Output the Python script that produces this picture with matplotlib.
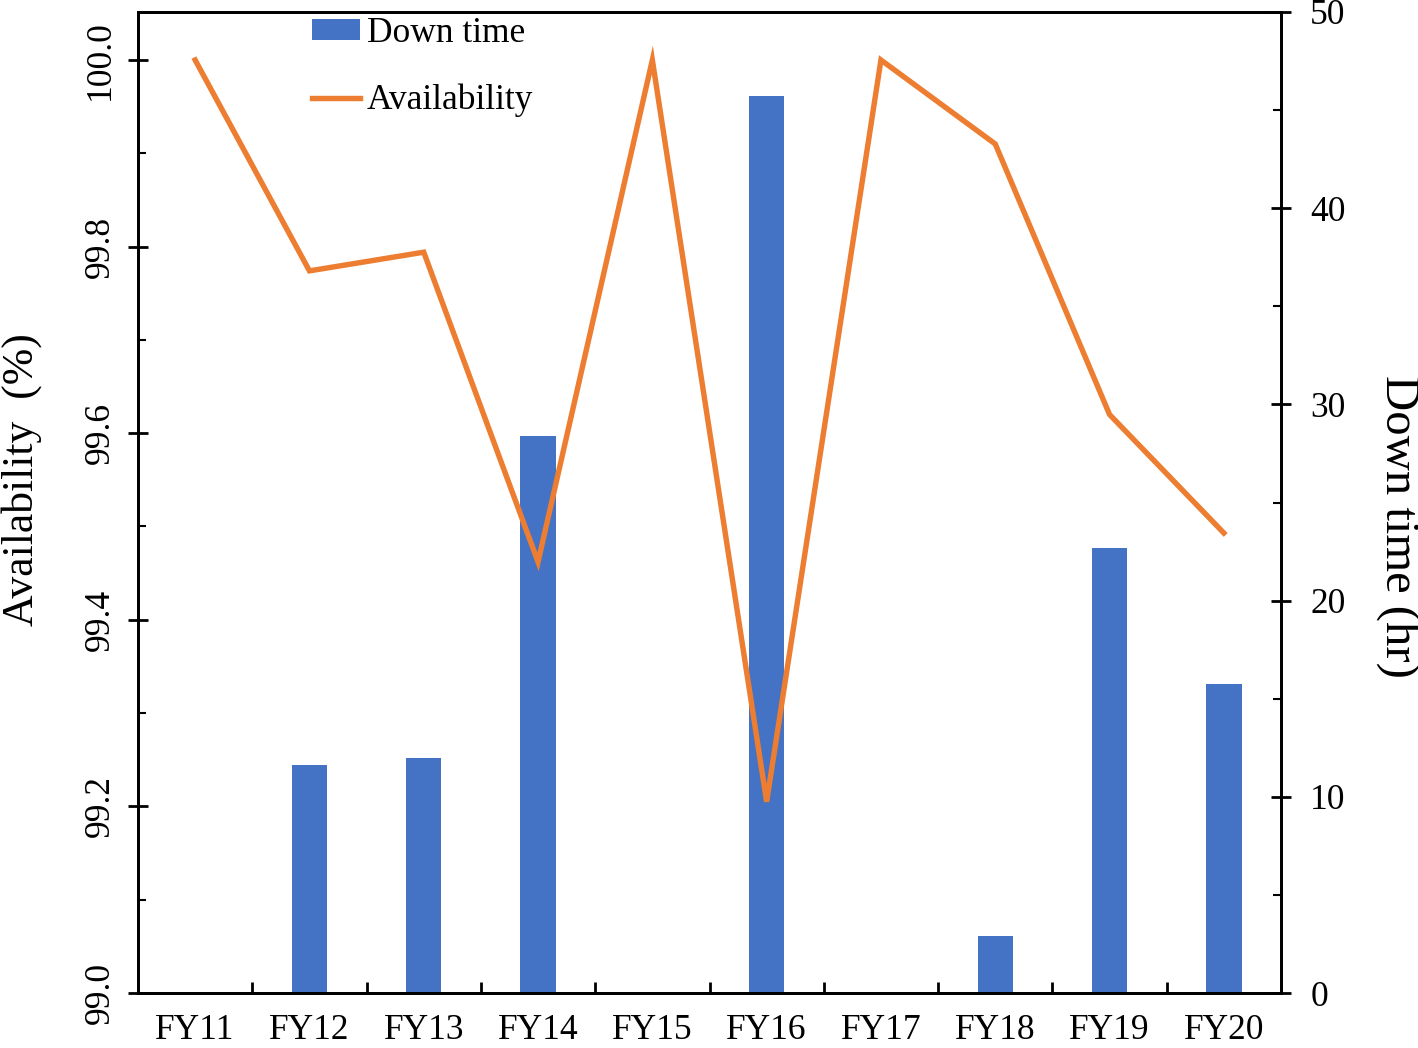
import matplotlib
matplotlib.use("Agg")
import matplotlib.pyplot as plt
from matplotlib.ticker import MultipleLocator, FixedLocator
import numpy as np

categories = ["FY11", "FY12", "FY13", "FY14", "FY15", "FY16", "FY17", "FY18", "FY19", "FY20"]
down_time = [0.0, 11.6, 12.0, 28.4, 0.0, 45.7, 0.0, 2.9, 22.7, 15.75]
availability = [100.0, 99.774, 99.794, 99.462, 100.0, 99.205, 100.0, 99.910, 99.620, 99.493]

plt.rcParams['font.family'] = ['Liberation Serif', 'DejaVu Serif']

fig = plt.figure(figsize=(14.18, 10.48), dpi=100)
ax1 = fig.add_axes([138/1418, 1-993/1048, (1281-138)/1418, (993-12)/1048])
ax2 = ax1.twinx()
ax1.set_zorder(ax2.get_zorder() + 1)
ax1.patch.set_visible(False)

x = np.arange(len(categories))
bars = ax2.bar(x, down_time, width=0.31, color='#4472C4', label='Down time')
line, = ax1.plot(x, availability, color='#ED7D31', lw=3.9, label='Availability',
                 solid_joinstyle='miter')

ax1.set_xlim(-0.5, len(categories) - 0.5)
ax1.set_ylim(99.0, 99.0 + 981/933)
ax2.set_ylim(0, 50)

ax1.yaxis.set_major_locator(FixedLocator([99.0, 99.2, 99.4, 99.6, 99.8, 100.0]))
ax1.yaxis.set_minor_locator(FixedLocator([99.1, 99.3, 99.5, 99.7, 99.9]))
ax1.set_yticklabels(["99.0", "99.2", "99.4", "99.6", "99.8", "100.0"], rotation=90, va='center')
ax2.yaxis.set_major_locator(MultipleLocator(10))
ax2.yaxis.set_minor_locator(MultipleLocator(5))

ax1.set_xticks(x)
ax1.set_xticklabels(categories)
ax1.xaxis.set_minor_locator(FixedLocator(np.arange(0.5, len(categories) - 1, 1.0)))

for a in (ax1, ax2):
    for s in a.spines.values():
        s.set_linewidth(2.0)
        s.set_color('black')

ax1.tick_params(axis='x', which='major', length=0, pad=15, labelsize=25.5)
ax1.tick_params(axis='x', which='minor', direction='in', length=8, width=2)
ax1.tick_params(axis='y', which='major', direction='inout', length=14, width=2, pad=8, labelsize=25.5)
ax1.tick_params(axis='y', which='minor', direction='in', length=6, width=1.5)
ax2.tick_params(axis='y', which='major', direction='inout', length=14, width=2, pad=14, labelsize=25.5)
ax2.tick_params(axis='y', which='minor', direction='in', length=6, width=1.5)

ax1.set_ylabel("Availability  (%)", fontsize=31.5)
ax1.yaxis.label.set_verticalalignment('center')
ax1.yaxis.set_label_coords((22 - 138) / 1143, (993 - 480) / 981)
ax2.set_ylabel("Down time (hr)", fontsize=35, rotation=-90)
ax2.yaxis.label.set_verticalalignment('center')
ax2.yaxis.set_label_coords((1398 - 138) / 1143, (993 - 526) / 981)

leg = ax1.legend([bars, line], ["Down time", "Availability"], loc='upper left',
                 bbox_to_anchor=(312/1418, 1-17/1048), bbox_transform=fig.transFigure,
                 frameon=False, fontsize=25.5, handlelength=1.35, handleheight=0.55,
                 handletextpad=0.2, labelspacing=0.95, borderpad=0, borderaxespad=0)

fig.savefig("out.png", dpi=100)
